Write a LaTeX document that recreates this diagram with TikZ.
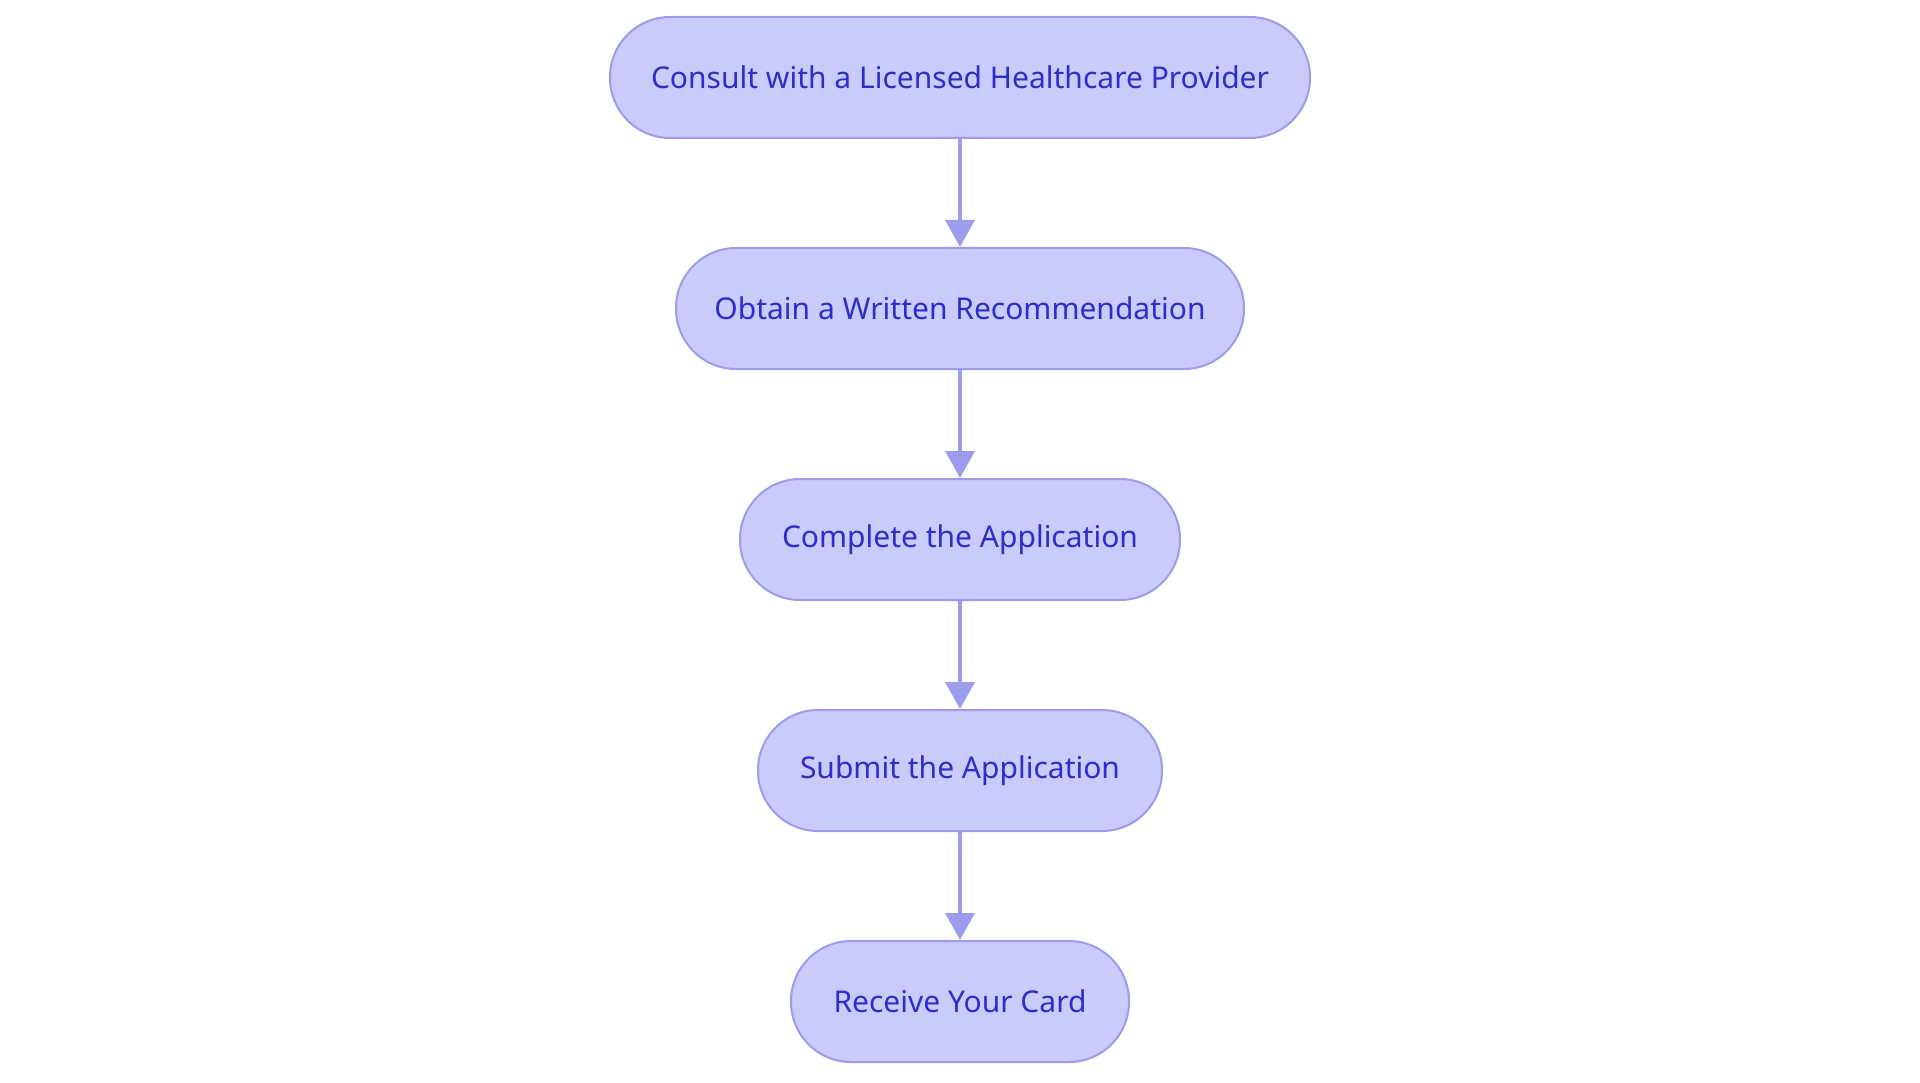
\documentclass[tikz,border=0pt]{standalone}
\usepackage{fontspec}
\setmainfont{Noto Sans}
\usetikzlibrary{arrows.meta}
\definecolor{boxfill}{HTML}{C9CBFB}
\definecolor{boxline}{HTML}{9A9DEE}
\definecolor{boxtext}{HTML}{2B2ECC}
\begin{document}
\begin{tikzpicture}[x=1pt,y=-1pt,
  stepbox/.style={draw=boxline, line width=2pt, fill=boxfill, text=boxtext,
    rounded corners=60pt, minimum height=121pt, inner sep=0pt,
    font=\fontsize{30}{36}\selectfont},
  flow/.style={draw=boxline, line width=3.8pt, -{Triangle[length=27pt,width=29pt]}}]
\useasboundingbox (0,0) rectangle (1920,1083);
\fill[white] (0,0) rectangle (1920,1083);
\node[stepbox, minimum width=700pt] (n1) at (960,77.5) {Consult with a Licensed Healthcare Provider};
\node[stepbox, minimum width=568pt] (n2) at (960,308.5) {Obtain a Written Recommendation};
\node[stepbox, minimum width=440pt] (n3) at (960,539.5) {Complete the Application};
\node[stepbox, minimum width=404pt] (n4) at (960,770.5) {Submit the Application};
\node[stepbox, minimum width=338pt] (n5) at (960,1001.5) {Receive Your Card};
\draw[flow] (n1) -- (n2);
\draw[flow] (n2) -- (n3);
\draw[flow] (n3) -- (n4);
\draw[flow] (n4) -- (n5);
\end{tikzpicture}
\end{document}
